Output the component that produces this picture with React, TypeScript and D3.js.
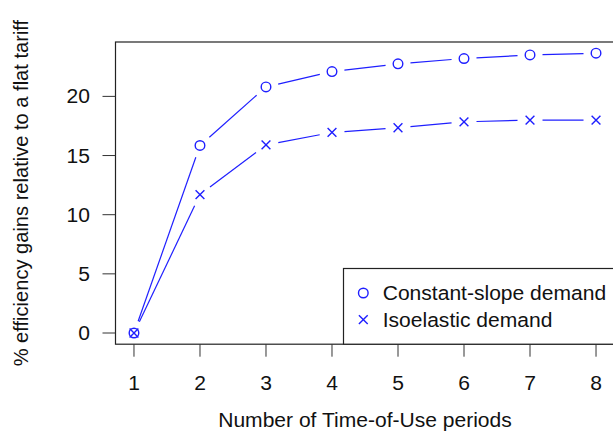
import React from "react";
import * as d3 from "d3";

// values
const periods = [1, 2, 3, 4, 5, 6, 7, 8];
const constantSlope = [0, 15.85, 20.8, 22.1, 22.75, 23.2, 23.5, 23.65];
const isoelastic = [0, 11.7, 15.9, 16.95, 17.35, 17.85, 18.0, 18.0];
const yTicks = [0, 5, 10, 15, 20];
const legendLabels = ["Constant-slope demand", "Isoelastic demand"];

const W = 613;
const H = 433;
const COLOR = "#1f1fff";
const FONT = "'Liberation Sans', Arial, Helvetica, sans-serif";
const FS = 19.5; // font size
const SX = 1.08; // the reference text is a bit wider than Liberation

const App = () => {
  const svgRef = React.useRef<SVGSVGElement>(null);

  React.useEffect(() => {
    const svg = d3.select(svgRef.current);
    svg.selectAll("*").remove();

    // plot region (R style, 4% padding on each side)
    const left = 115.5;
    const right = 614.5;
    const top = 42;
    const bottom = 344.2;

    const xMin = 1, xMax = 8;
    const xPad = (xMax - xMin) * 0.04;
    const yMax = d3.max(constantSlope) as number;
    const yPad = yMax * 0.04;

    const x = d3.scaleLinear().domain([xMin - xPad, xMax + xPad]).range([left, right]);
    const y = d3.scaleLinear().domain([0 - yPad, yMax + yPad]).range([bottom, top]);

    const label = (g: d3.Selection<any, any, any, any>, tx: number, ty: number, anchor: string, txt: string) =>
      g.append("text")
        .attr("transform", `translate(${tx},${ty}) scale(${SX},1)`)
        .attr("text-anchor", anchor)
        .attr("font-family", FONT)
        .attr("font-size", FS)
        .attr("fill", "#111")
        .text(txt);

    // box
    svg
      .append("rect")
      .attr("x", left)
      .attr("y", top)
      .attr("width", right - left)
      .attr("height", bottom - top)
      .attr("fill", "none")
      .attr("stroke", "#222")
      .attr("stroke-width", 1.2);

    // x axis ticks
    const xa = svg.append("g");
    xa.selectAll("line")
      .data(periods)
      .enter()
      .append("line")
      .attr("x1", (d) => x(d))
      .attr("x2", (d) => x(d))
      .attr("y1", bottom)
      .attr("y2", bottom + 12.5)
      .attr("stroke", "#333");
    periods.forEach((d) => label(xa, x(d), 389.5, "middle", String(d)));

    // y axis ticks
    const ya = svg.append("g");
    ya.selectAll("line")
      .data(yTicks)
      .enter()
      .append("line")
      .attr("x1", left - 13)
      .attr("x2", left)
      .attr("y1", (d) => y(d))
      .attr("y2", (d) => y(d))
      .attr("stroke", "#333");
    yTicks.forEach((d) => label(ya, 90, y(d) + 7, "end", String(d)));

    // axis titles
    label(svg, (left + right) / 2, 426.5, "middle", "Number of Time-of-Use periods");
    svg
      .append("text")
      .attr("transform", `translate(28, ${(top + bottom) / 2}) rotate(-90) scale(1, 1.03)`)
      .attr("text-anchor", "middle")
      .attr("font-family", FONT)
      .attr("font-size", 20.1)
      .attr("fill", "#111")
      .text("% efficiency gains relative to a flat tariff");

    // type="b" lines: segments with gaps around the points
    const gap = 12.5;
    const drawSeries = (vals: number[]) => {
      const pts = periods.map((p, i) => [x(p), y(vals[i])]);
      const segs = d3.pairs(pts).filter(([a, b]) => Math.hypot(b[0] - a[0], b[1] - a[1]) > 2 * gap);
      svg
        .append("g")
        .selectAll("line")
        .data(segs)
        .enter()
        .append("line")
        .each(function ([a, b]) {
          const len = Math.hypot(b[0] - a[0], b[1] - a[1]);
          const ux = (b[0] - a[0]) / len;
          const uy = (b[1] - a[1]) / len;
          d3.select(this)
            .attr("x1", a[0] + ux * gap)
            .attr("y1", a[1] + uy * gap)
            .attr("x2", b[0] - ux * gap)
            .attr("y2", b[1] - uy * gap);
        })
        .attr("stroke", COLOR)
        .attr("stroke-width", 1.2);
      return pts;
    };

    const circlePts = drawSeries(constantSlope);
    const crossPts = drawSeries(isoelastic);

    const r = 4.8;
    const drawCircle = (g: d3.Selection<any, any, any, any>, cx: number, cy: number) =>
      g.append("circle")
        .attr("cx", cx)
        .attr("cy", cy)
        .attr("r", r)
        .attr("fill", "none")
        .attr("stroke", COLOR)
        .attr("stroke-width", 1.4);
    const drawCross = (g: d3.Selection<any, any, any, any>, cx: number, cy: number) => {
      const s = 4.4;
      g.append("path")
        .attr("d", `M${cx - s},${cy - s}L${cx + s},${cy + s}M${cx - s},${cy + s}L${cx + s},${cy - s}`)
        .attr("stroke", COLOR)
        .attr("stroke-width", 1.4)
        .attr("fill", "none");
    };

    const marks = svg.append("g");
    circlePts.forEach(([cx, cy]) => drawCircle(marks, cx, cy));
    crossPts.forEach(([cx, cy]) => drawCross(marks, cx, cy));

    // legend (bottom right)
    const lg = svg.append("g");
    const lgLeft = 343.5;
    const lgTop = 268.5;
    lg.append("rect")
      .attr("x", lgLeft)
      .attr("y", lgTop)
      .attr("width", right - lgLeft)
      .attr("height", bottom - lgTop)
      .attr("fill", "white")
      .attr("stroke", "#222")
      .attr("stroke-width", 1.2);
    legendLabels.forEach((txt, i) => {
      const cy = 293 + i * 26.7;
      if (i === 0) drawCircle(lg, 363.3, cy);
      else drawCross(lg, 363.3, cy);
      label(lg, 382.7, cy + 7, "start", txt);
    });
  }, []);

  return (
    <svg
      ref={svgRef}
      width={W}
      height={H}
      style={{ position: "absolute", left: 0, top: 0, background: "white" }}
    />
  );
};

export default App;
